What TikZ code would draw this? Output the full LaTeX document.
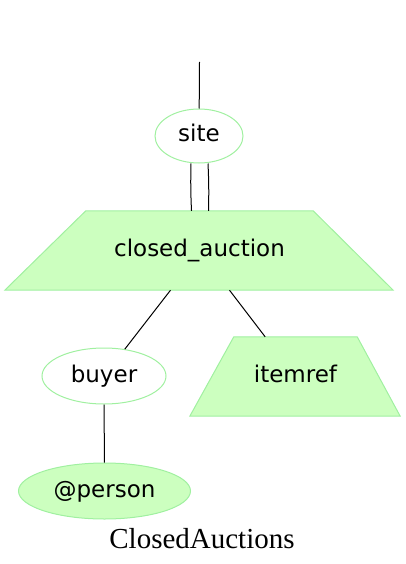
\documentclass[tikz,border=0pt]{standalone}
\usepackage{fontspec}
\setmainfont{Liberation Serif}
\newfontfamily\labelfont{DejaVu Sans}
\usetikzlibrary{shapes.geometric,backgrounds}
\definecolor{nodefill}{RGB}{204,255,191}
\definecolor{nodeline}{RGB}{160,240,160}
\begin{document}
\begin{tikzpicture}[x=1pt,y=-1pt,
  lbl/.style={font=\labelfont\fontsize{23}{27}\selectfont, inner sep=0pt, text height=17pt, text depth=5pt},
  elnode/.style={lbl, ellipse, draw=nodeline, line width=1pt},
  filledel/.style={elnode, fill=nodefill},
  trapbody/.style={lbl, rectangle},
  trapline/.style={draw=nodeline, fill=nodefill, line width=1pt, line join=miter},
  conn/.style={line width=1pt, black}]
\useasboundingbox (0,0) rectangle (406,564);
\node[elnode, minimum width=88pt, minimum height=54pt] (site) at (199,136) {site};
\node[trapbody, minimum width=227pt, minimum height=79pt] (ca) at (199.5,250.5) {closed\_auction};
\node[elnode, minimum width=124pt, minimum height=56pt] (buyer) at (104,376) {buyer};
\node[trapbody, minimum width=123pt, minimum height=79pt] (ir) at (295.5,376.5) {itemref};
\node[filledel, minimum width=172pt, minimum height=56pt] (person) at (104.5,491) {@person};
\node[font=\fontsize{29}{34}\selectfont, inner sep=0pt, anchor=base] (title) at (202,548) {ClosedAuctions};
\begin{scope}[on background layer]
\path[trapline] (ca.north west) -- (ca.north east) -- ([xshift=80pt]ca.south east) -- ([xshift=-81pt]ca.south west) -- cycle;
\path[trapline] (ir.north west) -- (ir.north east) -- ([xshift=43pt]ir.south east) -- ([xshift=-44pt]ir.south west) -- cycle;
\end{scope}
\coordinate (top) at (199.5,62);
\draw[conn] (top) -- (site);
\draw[conn] ([xshift=-8pt]site.south) to[bend right=2] ([xshift=-8pt]ca.north);
\draw[conn] ([xshift=9pt]site.south) to[bend left=2] ([xshift=9pt]ca.north);
\draw[conn] ([xshift=-29pt]ca.south) -- (buyer);
\draw[conn] ([xshift=30pt]ca.south) -- (ir);
\draw[conn] (buyer) -- (person);
\end{tikzpicture}
\end{document}
